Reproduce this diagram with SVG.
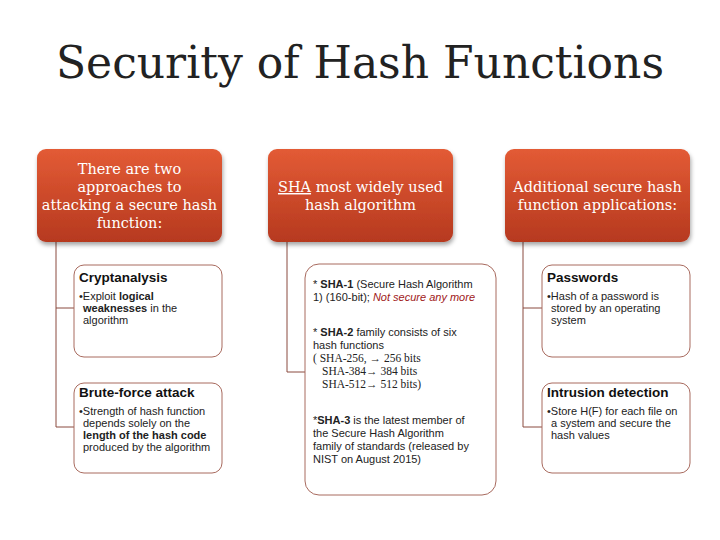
<svg xmlns="http://www.w3.org/2000/svg" width="720" height="540" viewBox="0 0 720 540">
<defs>
<linearGradient id="g" x1="0" y1="0" x2="0" y2="1"><stop offset="0" stop-color="#e35b35"/><stop offset="1" stop-color="#b6391f"/></linearGradient>
<filter id="sh" x="-10%" y="-10%" width="130%" height="130%"><feDropShadow dx="1" dy="3" stdDeviation="2" flood-opacity="0.35"/></filter>
</defs>
<style>
.hd{fill:url(#g);filter:url(#sh)}
.ht{font-family:"DejaVu Serif","Liberation Serif",serif;font-size:14.5px;fill:#fff;text-anchor:middle}
.bx{fill:#fff;stroke:#a86a5e;stroke-width:1}
.t{font-family:"Liberation Sans",Arial,sans-serif;font-size:11px;fill:#222}
.h{font-family:"Liberation Sans",Arial,sans-serif;font-size:13.5px;font-weight:bold;fill:#111}
.c{fill:none;stroke:#8a4a3e;stroke-width:1}
</style>
<text x="360" y="78" font-family="Liberation Serif,serif" font-size="48" fill="#222" text-anchor="middle" style="font-family:'DejaVu Serif','Liberation Serif',serif;font-size:44px">Security of Hash Functions</text>
<g id="connectors">
<path class="c" d="M56 242V427H74M56 308H74"/>
<path class="c" d="M287 242V372H305"/>
<path class="c" d="M523 242V427H542M523 308H542"/>
</g>
<g id="h1"><rect class="hd" x="37" y="149" width="185" height="93" rx="9"/>
<text class="ht"><tspan x="129.5" y="174">There are two</tspan><tspan x="129.5" y="192">approaches to</tspan><tspan x="129.5" y="210">attacking a secure hash</tspan><tspan x="129.5" y="228">function:</tspan></text></g>
<g id="h2"><rect class="hd" x="268" y="149" width="185" height="93" rx="9"/>
<text class="ht"><tspan x="360.5" y="192"><tspan text-decoration="underline">SHA</tspan> most widely used</tspan><tspan x="360.5" y="210">hash algorithm</tspan></text></g>
<g id="h3"><rect class="hd" x="505" y="149" width="185" height="93" rx="9"/>
<text class="ht"><tspan x="597.5" y="192">Additional secure hash</tspan><tspan x="597.5" y="210">function applications:</tspan></text></g>
<g id="b1"><rect class="bx" x="74" y="265" width="148" height="92" rx="10"/>
<text class="h" x="79" y="282">Cryptanalysis</text>
<text class="t"><tspan x="79" y="300">•Exploit <tspan font-weight="bold">logical</tspan></tspan><tspan x="83" y="312" font-weight="bold">weaknesses<tspan font-weight="normal"> in the</tspan></tspan><tspan x="83" y="324">algorithm</tspan></text></g>
<g id="b2"><rect class="bx" x="74" y="383" width="148" height="90" rx="10"/>
<text class="h" x="79" y="397">Brute-force attack</text>
<text class="t"><tspan x="79" y="415">•Strength of hash function</tspan><tspan x="83" y="427">depends solely on the</tspan><tspan x="83" y="439" font-weight="bold">length of the hash code</tspan><tspan x="83" y="451">produced by the algorithm</tspan></text></g>
<g id="b3"><rect class="bx" x="305" y="264" width="191" height="231" rx="14"/>
<text class="t"><tspan x="313" y="288">* <tspan font-weight="bold">SHA-1</tspan> (Secure Hash Algorithm</tspan><tspan x="313" y="301">1) (160-bit); <tspan font-style="italic" fill="#a01818">Not secure any more</tspan></tspan>
<tspan x="313" y="336">* <tspan font-weight="bold">SHA-2</tspan> family consists of six</tspan><tspan x="313" y="349">hash functions</tspan></text>
<text font-family="Liberation Serif,serif" font-size="11.5" fill="#222"><tspan x="313" y="362">( SHA-256, → 256 bits</tspan><tspan x="322" y="375">SHA-384→ 384 bits</tspan><tspan x="322" y="388">SHA-512→ 512 bits)</tspan></text>
<text class="t"><tspan x="313" y="424">*<tspan font-weight="bold">SHA-3</tspan>  is the latest member of</tspan><tspan x="313" y="437">the Secure Hash Algorithm</tspan><tspan x="313" y="450">family of standards (released by</tspan><tspan x="313" y="463">NIST on August 2015)</tspan></text></g>
<g id="b4"><rect class="bx" x="542" y="265" width="148" height="92" rx="10"/>
<text class="h" x="547" y="282">Passwords</text>
<text class="t"><tspan x="547" y="300">•Hash of a password is</tspan><tspan x="551" y="312">stored by an operating</tspan><tspan x="551" y="324">system</tspan></text></g>
<g id="b5"><rect class="bx" x="542" y="383" width="148" height="90" rx="10"/>
<text class="h" x="547" y="397">Intrusion detection</text>
<text class="t"><tspan x="547" y="415">•Store H(F) for each file on</tspan><tspan x="551" y="427">a system and secure the</tspan><tspan x="551" y="439">hash values</tspan></text></g>
</svg>
